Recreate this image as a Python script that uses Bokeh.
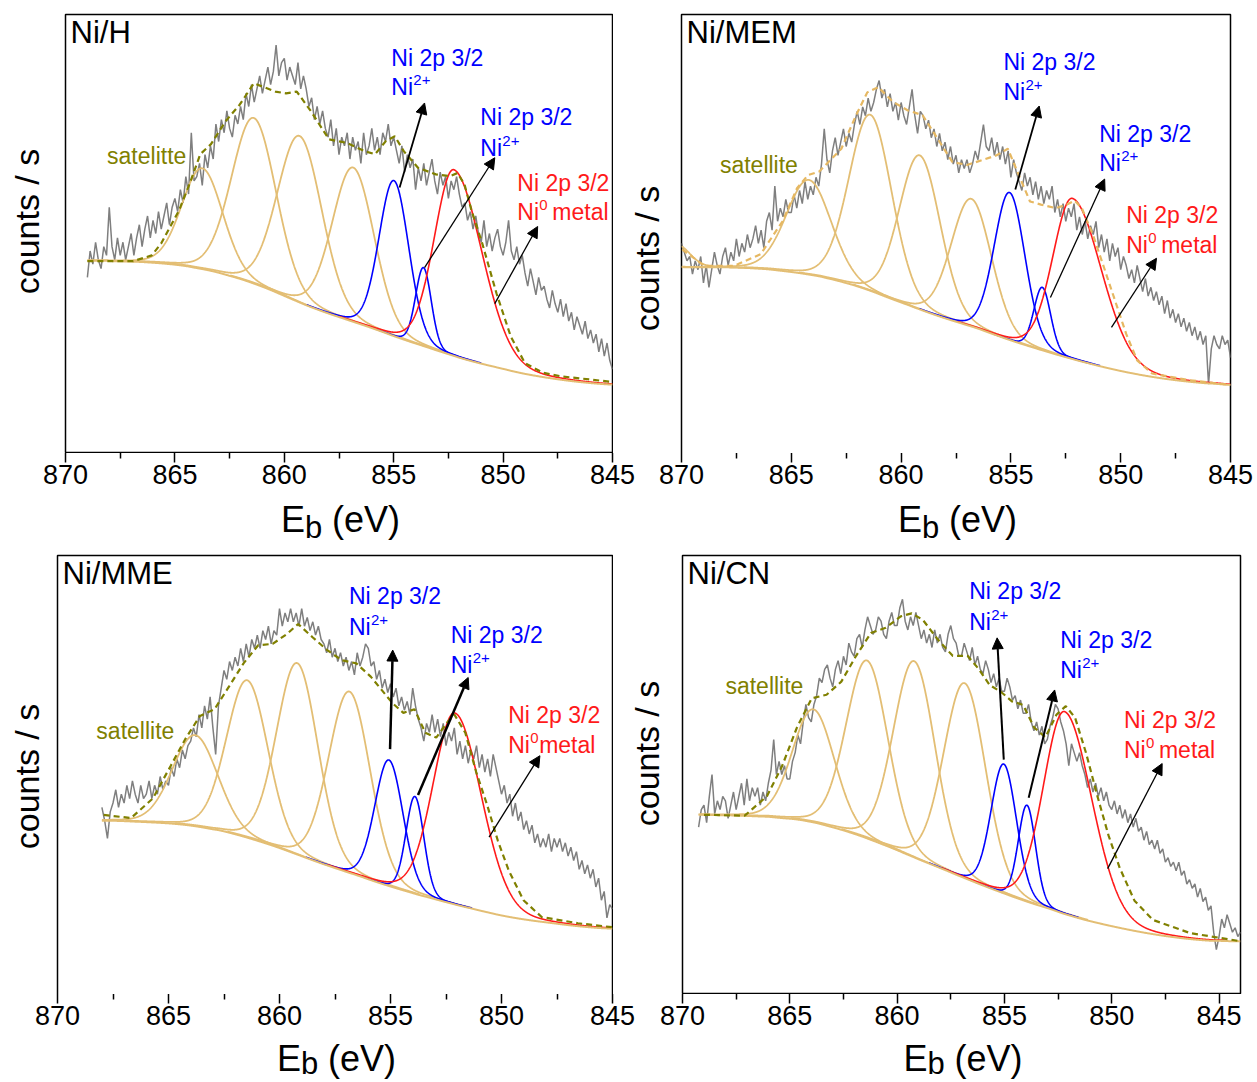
import numpy as np
from math import pi
from bokeh.plotting import figure
from bokeh.layouts import column, row
from bokeh.models import Range1d, FixedTicker, Label, Arrow, NormalHead
from bokeh.embed import file_html
from bokeh.resources import INLINE

FONT = "Liberation Sans"
STEP = 0.125  # eV spacing of the measured points

# ---------------- measured spectra (counts, arbitrary units) ----------------
# Ni/H : 869.000 -> 845.000 eV
h_E = (869.0, 845.0)
h_counts = [40, 46, 43, 48, 44, 42, 47, 45,  56, 47, 44, 49, 45, 48, 44, 47,
            50, 45, 49, 52, 47, 51, 54, 49,  53, 50, 55, 51, 54, 57, 52, 56,
            58, 55, 60, 57, 63, 59, 73, 62,  63, 66, 61, 68, 65, 70, 67, 75,
            71, 76, 73, 78, 74, 72, 77, 75,  79, 76, 82, 79, 84, 80, 83, 86,
            82, 85, 88, 84, 87, 93, 86, 89,  90, 85, 88, 86, 84, 89, 83, 86,
            83, 79, 81, 76, 79, 75, 78, 74,  72, 76, 70, 74, 68, 72, 70, 73,
            67, 72, 69, 71, 66, 73, 68, 70,  74, 69, 72, 68, 73, 71, 75, 70,
            72, 69, 66, 70, 64, 68, 65, 67,  60, 65, 62, 66, 61, 64, 67, 62,
            59, 64, 61, 63, 58, 62, 60, 63,  59, 56, 57, 53, 55, 51, 54, 50,
            48, 53, 47, 50, 46, 49, 51, 47,  45, 48, 53, 46, 44, 47, 43, 45,
            41, 38, 42, 39, 36, 40, 37, 38,  35, 33, 37, 34, 32, 35, 31, 34,
            30, 32, 28, 31, 29, 27, 30, 26,  28, 25, 27, 23, 26, 22, 25, 21,
            19]
# Ni/MEM : 870.000 -> 845.000 eV
m_E = (870.0, 845.0)
m_counts = [48, 46, 44, 45, 41, 44, 42, 45,  39, 43, 38, 42, 46, 43, 41, 45,
            47, 43, 46, 44, 49, 45, 48, 46,  50, 47, 49, 52, 48, 51, 47, 53,
            55, 51, 61, 53, 56, 54, 58, 55,  55, 59, 56, 60, 57, 62, 58, 61,
            59, 63, 61, 66, 74, 67, 64, 69,  72, 68, 71, 74, 70, 73, 71, 75,
            78, 75, 79, 77, 81, 78, 80, 83,  85, 81, 83, 79, 82, 78, 80, 76,
            80, 77, 75, 79, 83, 77, 73, 78,  77, 74, 76, 72, 74, 70, 73, 69,
            71, 67, 70, 66, 68, 64, 67, 65,  67, 64, 66, 69, 67, 71, 75, 70,
            69, 72, 68, 71, 67, 70, 66, 69,  63, 67, 64, 62, 60, 64, 61, 63,
            59, 62, 58, 61, 57, 60, 58, 61,  55, 58, 54, 57, 53, 56, 54, 57,
            51, 54, 50, 53, 49, 52, 50, 53,  47, 50, 46, 49, 44, 48, 45, 47,
            42, 45, 43, 40, 42, 39, 43, 40,  37, 40, 36, 38, 35, 37, 34, 36,
            32, 35, 31, 33, 30, 32, 29, 31,  28, 30, 27, 29, 26, 28, 25, 27,
            16, 24, 27, 25, 24, 27, 25, 26,  22]
# Ni/MME : 868.000 -> 845.000 eV
e_E = (868.0, 845.0)
e_counts = [43, 40, 36, 42, 44, 47, 43, 46,  44, 48, 45, 49, 46, 44, 48, 45,
            46, 49, 45, 48, 46, 50, 47, 49,  48, 52, 50, 54, 52, 56, 54, 57,
            58, 61, 59, 64, 61, 66, 63, 68,  61, 55, 66, 70, 74, 72, 76, 74,
            77, 75, 79, 76, 80, 77, 81, 79,  82, 79, 83, 81, 84, 80, 83, 82,
            88, 84, 87, 85, 88, 85, 87, 84,  88, 84, 86, 83, 85, 82, 84, 81,
            80, 78, 81, 77, 79, 76, 78, 75,  77, 74, 76, 73, 78, 75, 77, 80,
            79, 75, 76, 72, 74, 70, 72, 69,  71, 68, 70, 66, 68, 65, 67, 64,
            70, 66, 63, 61, 58, 62, 60, 64,  60, 63, 59, 62, 57, 60, 58, 61,
            55, 58, 54, 57, 53, 56, 54, 57,  52, 55, 51, 54, 50, 55, 52, 49,
            46, 48, 44, 46, 41, 44, 40, 42,  38, 40, 37, 39, 35, 37, 34, 36,
            34, 37, 33, 36, 34, 36, 33, 35,  32, 34, 31, 33, 29, 31, 28, 30,
            27, 29, 25, 27, 22, 24, 18, 21,  20]
# Ni/CN : 869.250 -> 844.000 eV
c_E = (869.25, 844.0)
c_counts = [38, 42,
            43, 39, 45, 50, 41, 44, 42, 45,  44, 40, 43, 46, 42, 45, 48, 43,
            49, 44, 47, 45, 47, 43, 46, 44,  48, 51, 58, 50, 53, 50, 52, 49,
            49, 53, 55, 59, 57, 62, 66, 63,  62, 66, 68, 72, 71, 74, 75, 72,
            70, 74, 76, 73, 77, 75, 80, 78,  77, 81, 82, 79, 83, 86, 84, 82,
            83, 86, 85, 82, 81, 85, 87, 84,  84, 88, 90, 85, 83, 86, 84, 87,
            84, 81, 83, 80, 82, 79, 83, 80,  82, 79, 78, 82, 84, 81, 80, 77,
            77, 80, 78, 76, 79, 75, 77, 74,  73, 76, 74, 71, 73, 70, 72, 69,
            69, 72, 70, 67, 68, 65, 67, 64,  64, 66, 62, 60, 62, 59, 61, 57,
            58, 61, 63, 66, 65, 62, 60, 57,  52, 57, 55, 53, 55, 52, 50, 47,
            49, 46, 48, 45, 47, 44, 46, 43,  42, 44, 41, 43, 40, 42, 39, 41,
            38, 40, 37, 38, 35, 37, 34, 35,  33, 35, 32, 33, 30, 31, 29, 30,
            28, 30, 27, 28, 25, 26, 24, 25,  22, 24, 21, 22, 19, 20, 14, 10,
            13, 17, 15, 18, 16, 14, 15, 13,  14]

# ---------------- fitted envelope (dashed) ----------------
h_env_E = [869.0, 866.9, 866.06, 865.63, 864.81, 864.33, 863.84, 863.35, 862.69, 862.04,
           861.39, 860.41, 859.92, 859.43, 858.78, 857.96, 857.15, 856.33, 855.85, 855.36,
           854.95, 854.54, 853.89, 853.07, 852.42, 852.09, 851.77, 851.44, 850.95, 850.30,
           849.65, 849.0, 848.18, 847.37, 845.0]
h_env = [43.7, 43.7, 45.0, 47.7, 55.3, 61.3, 68.1, 70.4, 75.6, 79.4,
         84.3, 82.4, 82.0, 82.4, 77.9, 71.5, 70.7, 68.8, 68.1, 71.1,
         72.2, 68.8, 65.0, 63.5, 63.1, 63.8, 61.3, 55.2, 47.7, 36.3,
         26.5, 20.4, 18.2, 17.4, 16.1]
m_env_E = [869.97, 868.96, 867.6, 866.4, 865.4, 864.74, 864.24, 863.73, 862.72, 862.05,
           861.54, 861.04, 860.36, 859.69, 859.02, 858.34, 857.67, 857.0, 856.32, 855.65,
           855.14, 854.64, 854.13, 853.63, 852.95, 852.45, 852.1, 851.77, 851.27, 850.76,
           850.26, 849.75, 849.25, 848.57, 846.89, 845.0]
m_env = [46.6, 42.9, 42.9, 45.5, 53.0, 60.5, 63.5, 64.3, 69.5, 77.1,
         82.3, 83.5, 80.1, 78.2, 77.1, 71.8, 66.5, 65.8, 66.9, 68.0,
         69.5, 63.5, 57.5, 56.8, 56.0, 56.8, 57.7, 56.0, 50.0, 42.5,
         35.0, 27.4, 21.4, 18.4, 16.9, 15.8]
e_env_E = [867.92, 866.69, 865.71, 864.89, 864.24, 863.58, 862.93, 862.27, 861.62, 860.96,
           860.31, 859.65, 859.16, 858.51, 857.85, 857.2, 856.54, 855.89, 855.4, 854.91,
           854.42, 853.92, 853.43, 852.94, 852.45, 852.12, 851.63, 851.14, 850.65, 850.16,
           849.67, 849.01, 848.19, 846.56, 845.0]
e_env = [41.3, 40.6, 45.0, 52.5, 58.5, 63.7, 65.2, 70.4, 75.6, 79.7,
         80.0, 82.3, 84.5, 81.5, 78.6, 76.3, 75.6, 72.6, 69.6, 66.6,
         64.4, 65.2, 59.9, 58.8, 62.2, 64.0, 59.9, 51.0, 43.6, 35.4,
         28.7, 22.0, 18.2, 16.8, 15.9]
c_env_E = [869.0, 867.1, 866.06, 865.37, 864.67, 863.98, 863.29, 862.6, 861.91, 861.22,
           860.53, 859.83, 859.32, 858.8, 858.1, 857.41, 856.72, 856.2, 855.68, 855.17,
           854.65, 854.13, 853.61, 853.09, 852.57, 852.14, 851.71, 851.19, 850.67, 850.15,
           849.63, 848.94, 848.08, 846.35, 843.96]
c_env = [40.8, 40.6, 45.1, 51.8, 60.7, 67.4, 68.2, 71.2, 77.1, 82.3,
         83.5, 86.1, 86.8, 85.3, 80.8, 77.1, 77.1, 74.1, 70.4, 68.9,
         66.7, 65.9, 60.7, 58.5, 63.7, 65.6, 63.0, 54.8, 45.1, 36.1,
         28.7, 21.2, 16.8, 13.8, 11.9]

# ---------------- fitted components ----------------
# Shirley background end levels (high-BE end, low-BE end)
h_bg = (43.8, 15.5)
m_bg = (42.6, 15.8)
e_bg = (40.0, 15.6)
c_bg = (40.8, 11.9)

# centre (eV), height, FWHM on the high-BE side, FWHM on the low-BE side
h_cen = [863.75, 861.39, 859.30, 856.85, 854.99, 853.64, 852.25]
h_hgt = [23.0, 37.8, 38.0, 35.2, 35.5, 17.9, 42.5]
h_fwh = [2.2, 2.4, 2.4, 2.25, 1.6, 0.85, 2.1]
h_fwl = [2.2, 2.4, 2.4, 2.25, 1.6, 0.85, 3.0]
h_kind = ["sat", "sat", "sat", "sat", "ni2", "ni2", "ni0"]

m_cen = [870.2, 864.2, 861.4, 859.15, 856.8, 855.06, 853.57, 852.2]
m_hgt = [5.0, 21.5, 40.0, 35.0, 29.0, 33.5, 14.3, 36.5]
m_fwh = [1.4, 2.4, 2.3, 2.2, 2.15, 1.65, 0.9, 2.1]
m_fwl = [1.4, 2.4, 2.3, 2.2, 2.15, 1.65, 0.9, 3.1]
m_kind = ["sat", "sat", "sat", "sat", "sat", "ni2", "ni2", "ni0"]

e_cen = [863.8, 861.45, 859.2, 856.85, 855.07, 853.9, 852.1]
e_hgt = [20.6, 35.6, 43.3, 41.0, 28.5, 22.0, 43.3]
e_fwh = [2.4, 2.2, 2.2, 2.2, 1.5, 0.95, 2.3]
e_fwl = [2.4, 2.2, 2.2, 2.2, 1.5, 0.95, 2.8]
e_kind = ["sat", "sat", "sat", "sat", "ni2", "ni2", "ni0"]

c_cen = [863.9, 861.4, 859.2, 856.85, 855.03, 853.95, 852.2]
c_hgt = [25.8, 40.6, 44.8, 44.5, 29.5, 22.0, 46.2]
c_fwh = [2.3, 2.3, 2.3, 2.3, 1.4, 0.95, 2.3]
c_fwl = [2.3, 2.3, 2.3, 2.3, 1.4, 0.95, 3.0]
c_kind = ["sat", "sat", "sat", "sat", "ni2", "ni2", "ni0"]

# tick labels
x_ticks = [870, 865, 860, 855, 850, 845]
x_minor = [867.5, 862.5, 857.5, 852.5, 847.5]

GRAY = "#7F7F7F"
TAN = "#E3BE74"
BLUE = "#0000FF"
RED = "#FF1A1A"
OLIVE = "#808000"
ENV_TAN = "#E6B862"
YLAB_SIZE = 34


def peak(x, c, h, w_hi, w_lo, m=0.1):
    w = np.where(x >= c, w_hi, w_lo)
    t = (x - c) / w
    return h * ((1 - m) * np.exp(-4 * np.log(2) * t * t) + m / (1 + 4 * t * t))


def shirley(y, ends, dx, n_iter=40):
    hi, lo = ends
    y = np.asarray(y, float)
    B = np.full_like(y, lo)
    for _ in range(n_iter):
        r = (y - B)[::-1]
        cum = np.concatenate([[0.0], np.cumsum(0.5 * (r[1:] + r[:-1]) * dx)])[::-1]
        B = lo + (hi - lo) * cum / cum[0]
    return B


def text(p, x, y, s, color, size, xo=0, yo=0, units="data", baseline="middle",
         align="left", angle=0.0):
    p.add_layout(Label(x=x, y=y, x_units=units, y_units=units, text=s,
                       text_color=color, text_font=FONT,
                       text_font_size=f"{size}px", x_offset=xo, y_offset=yo,
                       text_baseline=baseline, text_align=align, angle=angle))


def blank(width, height):
    p = figure(frame_width=width, frame_height=height, min_border_left=0,
               min_border_right=0, min_border_top=0, min_border_bottom=0,
               x_range=Range1d(0, width), y_range=Range1d(0, height),
               x_axis_location=None, y_axis_location=None,
               toolbar_location=None, output_backend="svg", title=None)
    p.outline_line_color = None
    p.grid.visible = False
    return p


def panel(name, E, counts, bg_ends, cen, hgt, fwh, fwl, kind, env_E, env_u,
          xr, env_color, geom, ann):
    ml, fwid, mr, mt, fh = geom
    p = figure(frame_width=fwid, frame_height=fh, min_border_left=ml,
               min_border_right=mr, min_border_top=mt, min_border_bottom=1,
               x_range=xr, y_range=Range1d(0, 100),
               x_axis_location=None, y_axis_location=None,
               toolbar_location=None, output_backend="svg", title=None)
    p.grid.visible = False
    p.outline_line_color = "black"
    p.outline_line_width = 1.5
    p.outline_line_alpha = 1.0

    x = np.linspace(E[0], E[1], len(counts))
    B = shirley(counts, bg_ends, STEP)
    xf = np.linspace(E[0], E[1], 2001)
    Bf = np.interp(xf[::-1], x[::-1], B[::-1])[::-1]

    p.line(x, counts, line_color=GRAY, line_width=1.5)
    comps = []
    for c, h, wh, wl, k in zip(cen, hgt, fwh, fwl, kind):
        msk = (xf <= c + 2.5 * wh) & (xf >= c - 2.5 * wl)
        comps.append((k, xf[msk], Bf[msk] + peak(xf[msk], c, h, wh, wl)))
    for kk, col, lw in (("sat", TAN, 1.8), ("ni2", BLUE, 1.6), ("ni0", RED, 1.6)):
        for k, xs, ys in comps:
            if k == kk:
                p.line(xs, ys, line_color=col, line_width=lw)
    p.line(xf, Bf, line_color=TAN, line_width=2.0)
    p.line(env_E, env_u, line_color=env_color, line_width=2.2, line_dash="6 4")

    text(p, 5, fh, name, "black", 31, units="screen", baseline="top")
    for key, col in (("b1", BLUE), ("b2", BLUE), ("r", RED)):
        ax_, y1, y2 = ann[key]
        text(p, ax_, y1, "Ni 2p 3/2", col, 23)
        text(p, ax_, y2, "Ni", col, 23)
        if key == "r":
            text(p, ax_, y2, "0", col, 15, xo=22, yo=7)
            text(p, ax_, y2, "metal", col, 23, xo=ann.get("mxo", 35))
        else:
            text(p, ax_, y2, "2+", col, 15, xo=22, yo=7)
    sx, sy, st = ann["sat"]
    text(p, sx, sy, st, OLIVE, 23)
    for (x1, y1, x2, y2, lw) in ann["arrows"]:
        p.add_layout(Arrow(end=NormalHead(size=11, fill_color="black",
                                          line_color="black", line_width=1),
                           x_start=x1, y_start=y1, x_end=x2, y_end=y2,
                           line_color="black", line_width=lw))
    return p


def axis_strip(xr, ml, fwid, mr, mb):
    p = figure(frame_width=fwid, frame_height=1, min_border_left=ml,
               min_border_right=mr, min_border_top=0, min_border_bottom=mb,
               x_range=xr, y_range=Range1d(0, 1), y_axis_location=None,
               toolbar_location=None, output_backend="svg", title=None)
    p.grid.visible = False
    p.outline_line_color = None
    ax = p.xaxis[0]
    ax.ticker = FixedTicker(ticks=x_ticks, minor_ticks=x_minor)
    ax.axis_line_color = None
    ax.major_tick_out = 8
    ax.major_tick_in = 2
    ax.minor_tick_out = 4
    ax.minor_tick_in = 2
    ax.major_tick_line_width = 1.5
    ax.minor_tick_line_width = 1.5
    ax.major_tick_line_color = "black"
    ax.minor_tick_line_color = "black"
    ax.major_label_text_font = FONT
    ax.major_label_text_font_size = "27px"
    ax.major_label_text_color = "black"
    ax.major_label_standoff = 2
    return p


def ylabel_strip(width, height, x_mid, y_mid):
    p = blank(width, height)
    text(p, x_mid, y_mid, "counts / s", "black", YLAB_SIZE, align="center",
         angle=pi / 2)
    return p


def xlabel_strip(width, height, cx, mid_e, mid_b):
    p = blank(width, height)
    x0 = cx - 58
    text(p, x0, mid_e, "E", "black", 36)
    text(p, x0 + 24, mid_b, "b", "black", 31)
    text(p, x0 + 51, mid_e, "(eV)", "black", 36)
    return p


h_ann = dict(b1=(855.11, 90.0, 83.4), b2=(851.04, 76.5, 69.6), r=(849.35, 61.6, 54.8),
             sat=(868.1, 67.7, "satelitte"),
             arrows=[(854.73, 60.5, 853.59, 79.8, 1.8), (853.59, 42.2, 850.38, 67.3, 1.3),
                     (850.38, 34.0, 848.42, 51.6, 1.3)])
m_ann = dict(b1=(855.34, 89.1, 82.3), b2=(850.98, 72.9, 66.2), r=(849.75, 54.5, 47.6),
             sat=(868.25, 65.8, "satellite"),
             arrows=[(854.8, 60.2, 853.71, 79.2, 1.8), (853.2, 35.7, 850.73, 62.6, 1.3),
                     (850.42, 28.9, 848.37, 44.6, 1.3)])
e_ann = dict(b1=(856.87, 90.8, 83.9), b2=(852.29, 82.1, 75.2), r=(849.7, 64.0, 57.1),
             sat=(868.25, 60.3, "satellite"), mxo=31,
             arrows=[(855.02, 56.2, 854.9, 78.6, 2.5), (853.76, 45.8, 851.5, 72.4, 2.5),
                     (850.56, 36.3, 848.27, 54.7, 1.3)])
c_ann = dict(b1=(856.64, 91.9, 84.9), b2=(852.4, 80.7, 73.8), r=(849.43, 62.4, 55.5),
             sat=(868.0, 70.3, "satellite"),
             arrows=[(855.03, 53.4, 855.34, 81.2, 2.0), (853.87, 44.7, 852.66, 69.3, 2.0),
                     (850.19, 28.5, 847.65, 52.5, 1.3)])

xr1 = Range1d(870, 845)
xr2 = Range1d(870, 845)
xr3 = Range1d(870, 845)
xr4 = Range1d(870, 844)

# geometry: (min_border_left, frame_width, min_border_right, min_border_top, frame_height)
p1 = panel("Ni/H", h_E, h_counts, h_bg, h_cen, h_hgt, h_fwh, h_fwl, h_kind,
           h_env_E, h_env, xr1, OLIVE, (15, 547, 1, 14, 438), h_ann)
p2 = panel("Ni/MEM", m_E, m_counts, m_bg, m_cen, m_hgt, m_fwh, m_fwl, m_kind,
           m_env_E, m_env, xr2, ENV_TAN, (2, 549, 25, 12, 440), m_ann)
p3 = panel("Ni/MME", e_E, e_counts, e_bg, e_cen, e_hgt, e_fwh, e_fwl, e_kind,
           e_env_E, e_env, xr3, OLIVE, (7, 555, 1, 5, 442), e_ann)
p4 = panel("Ni/CN", c_E, c_counts, c_bg, c_cen, c_hgt, c_fwh, c_fwl, c_kind,
           c_env_E, c_env, xr4, OLIVE, (2, 558, 15, 9, 438), c_ann)

y1 = ylabel_strip(50, 453, 26.5, 246)
y2 = ylabel_strip(66, 453, 33.0, 209)
y3 = ylabel_strip(50, 448, 26.5, 227)
y4 = ylabel_strip(67, 448, 33.0, 250)

a1 = axis_strip(xr1, 65, 547, 23, 43)
a2 = axis_strip(xr2, 46, 549, 25, 43)
a3 = axis_strip(xr3, 57, 555, 23, 43)
a4 = axis_strip(xr4, 47, 558, 15, 43)

s1 = xlabel_strip(635, 49, 338.5, 27.5, 18.7)
s2 = xlabel_strip(620, 49, 320.5, 27.5, 18.7)
s3 = xlabel_strip(635, 42, 334.5, 21.7, 17.4)
s4 = xlabel_strip(620, 42, 326.0, 21.7, 17.4)

layout = column(row(y1, p1, y2, p2), row(a1, a2), row(s1, s2),
                row(y3, p3, y4, p4), row(a3, a4), row(s3, s4))
open("out.html", "w").write(file_html(layout, INLINE))
